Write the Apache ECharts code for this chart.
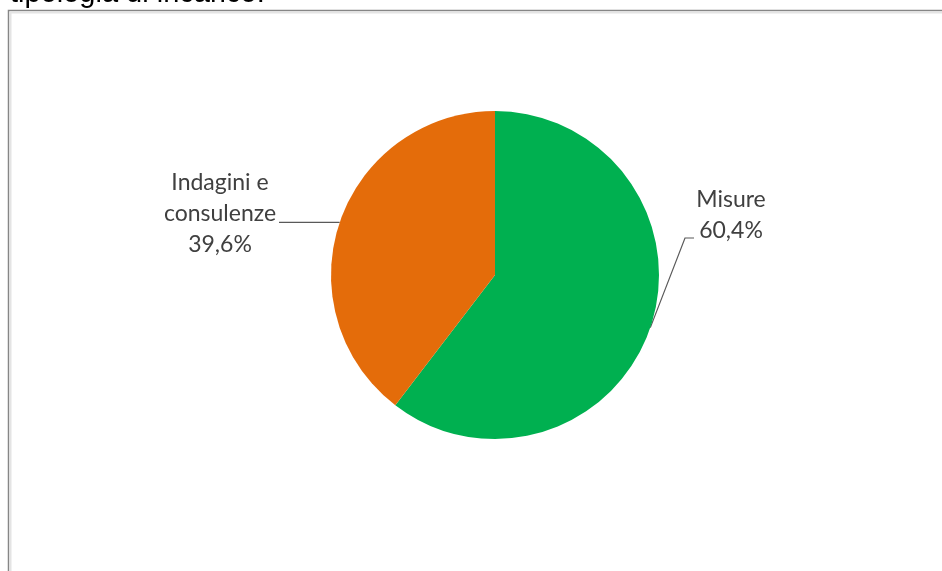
<!DOCTYPE html>
<html>
<head>
<meta charset="utf-8">
<style>
html,body{margin:0;padding:0;background:#fff;}
#chart{width:942px;height:571px;}
</style>
<script src="https://cdn.jsdelivr.net/npm/echarts@6/dist/echarts.min.js"></script>
</head>
<body>
<div id="chart"></div>
<script>
var categories = ['Misure', 'Indagini e consulenze'];
var values = [60.4, 39.6];
var colors = ['#00B050', '#E46C0A'];
var titleText = 'tipologia di incarico.';

var chart = echarts.init(document.getElementById('chart'));
var CX = 495, CY = 275, R = 164;
var total = values.reduce(function(a, b){ return a + b; }, 0);
function edgePoint(idx) {
  var before = 0;
  for (var i = 0; i < idx; i++) before += values[i];
  var mid = (before + values[idx] / 2) / total * Math.PI * 2;
  return [CX + R * Math.sin(mid), CY - R * Math.cos(mid)];
}
function fmt(v){ return v.toFixed(1).replace('.', ','); }

var labelPos = [
  {x: 731, y: 215},
  {x: 220, y: 214}
];

chart.setOption({
  animation: false,
  graphic: [
    {
      type: 'rect',
      shape: {x: 8.5, y: 10.5, width: 1000, height: 1000},
      style: {fill: 'none', stroke: '#868686', lineWidth: 1.5},
      z: 1
    },
    {
      type: 'rect',
      shape: {x: 10.5, y: 12.5, width: 1000, height: 1000},
      style: {fill: 'none', stroke: '#e4e4e4', lineWidth: 2},
      z: 1
    },
    {
      type: 'text',
      x: 10, y: -6,
      style: {
        text: titleText,
        font: '29px "Liberation Sans", Arial, sans-serif',
        fill: '#000',
        verticalAlign: 'middle',
        align: 'left'
      },
      z: 2
    }
  ],
  series: [{
    type: 'pie',
    center: [CX, CY],
    radius: R,
    startAngle: 90,
    clockwise: true,
    data: categories.map(function(c, i){
      return {name: c, value: values[i], itemStyle: {color: colors[i]}};
    }),
    itemStyle: {borderWidth: 0},
    label: {
      show: true,
      position: 'outside',
      formatter: function(p){
        var name = p.name.length > 10 ? p.name.replace(/ (\S+)$/, '\n$1') : p.name;
        return name + '\n' + fmt(p.value) + '%';
      },
      fontFamily: 'Lato, "Open Sans", sans-serif',
      fontSize: 23,
      lineHeight: 31,
      color: '#404040',
      align: 'center'
    },
    labelLine: {
      show: true,
      lineStyle: {color: '#595959', width: 1.2}
    },
    labelLayout: function(params){
      var i = params.dataIndex;
      var e = edgePoint(i);
      var pos = labelPos[i];
      var pts;
      if (i === 0) {
        pts = [e, [685, 238], [694, 238]];
      } else {
        pts = [e, [300, e[1]], [279, e[1]]];
      }
      return {
        x: pos.x, y: pos.y,
        align: 'center', verticalAlign: 'middle',
        labelLinePoints: pts
      };
    },
    emphasis: {disabled: true}
  }]
});
</script>
</body>
</html>
